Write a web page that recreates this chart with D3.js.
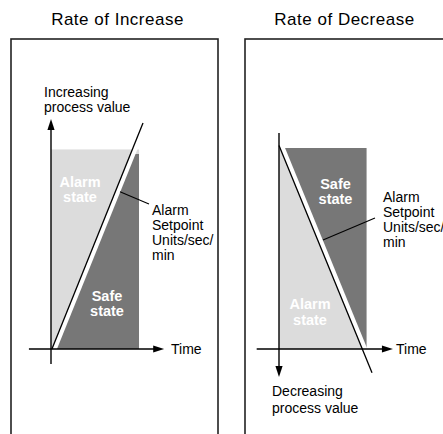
<!DOCTYPE html>
<html><head><meta charset="utf-8">
<script src="https://cdn.jsdelivr.net/npm/d3@7"></script>
<style>
body{margin:0;background:#fff}
svg{display:block}
text{font-family:"Liberation Sans",Arial,Helvetica,sans-serif;fill:#000}
</style>
</head><body>
<script>
// ---------- data ----------
const panelTitles = ["Rate of Increase", "Rate of Decrease"];
const timeLabel = "Time";
const valueLabels = [["Increasing", "process value"], ["Decreasing", "process value"]];
const setpointLabel = ["Alarm", "Setpoint", "Units/sec/", "min"];
const upperZoneLabels = [["Alarm", "state"], ["Safe", "state"]];
const lowerZoneLabels = [["Safe", "state"], ["Alarm", "state"]];
// setpoint line endpoints [time, value]
const incLine = [[0.1, 0], [10, 10]];
const decLine = [[0, 9.0], [10, -1.05]];
// state region extent [time max, value max]
const incRegion = [9.57, 8.83];
const decRegion = [9.41, 8.89];
// dark (safe) region upper bound
const incSafeTop = [8.63];
const decSafeTop = [8.89];
// axis extents [min, max]
const incTimeAxis = [-2.4, 12.3];
const incValueAxis = [-0.66, 10.18];
const decTimeAxis = [-2.4, 12.25];
const decValueAxis = [9.56, -1.24];
// leader line from the setpoint line to its label [time, value]
const incLeader = [[7.5, 6.96], [10.65, 6.42]];
const decLeader = [[4.73, 4.82], [10.32, 5.8]];

// ---------- layout ----------
const W = 443, H = 434;
const svg = d3.select("body").append("svg").attr("width", W).attr("height", H);
const LIGHT = "#dcdcdc", DARK = "#777777";

const panels = [
  { title: panelTitles[0], titleX: 117.5, frame: [11, 39, 207, 430],
    x: d3.scaleLinear([0, 10], [51, 143]), y: d3.scaleLinear([0, 10], [349, 123]),
    line: incLine, region: incRegion, safeTop: incSafeTop[0],
    tAxis: incTimeAxis, vAxis: incValueAxis, leader: incLeader,
    vLabel: valueLabels[0], vLabelPos: [44, 97, 15],
    timePos: [171, 354],
    spPos: [152, 214.5],
    upper: upperZoneLabels[0], upperPos: [80, 187, 14.5],
    lower: lowerZoneLabels[0], lowerPos: [107, 300.5, 15.5],
    upperIsSafe: false },
  { title: panelTitles[1], titleX: 344.5, frame: [245, 39, 260, 430],
    x: d3.scaleLinear([0, 10], [279, 372]), y: d3.scaleLinear([0, 10], [349, 123]),
    line: decLine, region: decRegion, safeTop: decSafeTop[0],
    tAxis: decTimeAxis, vAxis: decValueAxis, leader: decLeader,
    vLabel: valueLabels[1], vLabelPos: [272, 395.5, 17],
    timePos: [396, 354],
    spPos: [383, 201.5],
    upper: upperZoneLabels[1], upperPos: [335.5, 188.5, 15.5],
    lower: lowerZoneLabels[1], lowerPos: [310, 309, 15.5],
    upperIsSafe: true }
];

panels.forEach((p, i) => {
  const g = svg.append("g");
  const x = p.x, y = p.y;

  // title
  g.append("text").attr("x", p.titleX).attr("y", 25)
    .attr("text-anchor", "middle").style("font-size", "17px").style("letter-spacing", "0.5px")
    .text(p.title);

  // frame
  g.append("rect").attr("x", p.frame[0]).attr("y", p.frame[1])
    .attr("width", p.frame[2]).attr("height", p.frame[3])
    .attr("fill", "none").attr("stroke", "#222").attr("stroke-width", 1.6);

  // light region (alarm)
  g.append("rect").attr("x", x(0)).attr("y", y(p.region[1]))
    .attr("width", x(p.region[0]) - x(0)).attr("height", y(0) - y(p.region[1]))
    .attr("fill", LIGHT);

  // dark region (safe): right side of setpoint line, clipped to region
  const clipId = "clip" + i;
  svg.append("clipPath").attr("id", clipId).append("rect")
    .attr("x", x(0)).attr("y", y(p.safeTop))
    .attr("width", x(p.region[0]) - x(0)).attr("height", y(0) - y(p.safeTop));
  const [a, b] = p.line;
  const far = 30;
  const darkPoly = [a, b, [b[0] + far, b[1]], [a[0] + far, a[1]]];
  g.append("path").attr("clip-path", `url(#${clipId})`)
    .attr("d", d3.line().x(d => x(d[0])).y(d => y(d[1]))(darkPoly) + "Z")
    .attr("fill", DARK);

  // setpoint line with white gap on its safe side
  const lineGen = d3.line().x(d => x(d[0])).y(d => y(d[1]));
  g.append("path").attr("d", lineGen(p.line)).attr("transform", "translate(2.6,0)")
    .attr("stroke", "#fff").attr("stroke-width", 4.6).attr("fill", "none");
  g.append("path").attr("d", lineGen(p.line))
    .attr("stroke", "#000").attr("stroke-width", 1.3).attr("fill", "none");

  // leader line
  g.append("path").attr("d", lineGen(p.leader))
    .attr("stroke", "#000").attr("stroke-width", 1.1).attr("fill", "none");

  // axes
  const ax = "#000";
  const tipT = x(p.tAxis[1]), tipV = y(p.vAxis[1]);
  const AL = 11, AW = 3.6;
  // time axis
  g.append("line").attr("x1", x(p.tAxis[0])).attr("x2", tipT - AL + 1)
    .attr("y1", y(0)).attr("y2", y(0)).attr("stroke", ax).attr("stroke-width", 1.4);
  g.append("path").attr("d", `M${tipT},${y(0)}L${tipT - AL},${y(0) - AW}L${tipT - AL},${y(0) + AW}Z`).attr("fill", ax);
  // value axis
  const dir = tipV < y(p.vAxis[0]) ? 1 : -1; // 1: arrow up
  g.append("line").attr("x1", x(0)).attr("x2", x(0))
    .attr("y1", y(p.vAxis[0])).attr("y2", tipV + dir * (AL - 1))
    .attr("stroke", ax).attr("stroke-width", 1.4);
  g.append("path").attr("d", `M${x(0)},${tipV}L${x(0) - AW},${tipV + dir * AL}L${x(0) + AW},${tipV + dir * AL}Z`).attr("fill", ax);

  // text labels
  const fs = "14px";
  p.vLabel.forEach((t, k) => g.append("text").attr("x", p.vLabelPos[0])
    .attr("y", p.vLabelPos[1] + k * p.vLabelPos[2]).style("font-size", fs).text(t));
  g.append("text").attr("x", p.timePos[0]).attr("y", p.timePos[1]).style("font-size", fs).text(timeLabel);
  setpointLabel.forEach((t, k) => g.append("text").attr("x", p.spPos[0])
    .attr("y", p.spPos[1] + k * 15.3).style("font-size", fs).text(t));
  const zone = (lines, pos) => lines.forEach((t, k) => g.append("text")
    .attr("x", pos[0]).attr("y", pos[1] + k * pos[2]).attr("text-anchor", "middle")
    .style("font-size", "14.5px").style("font-weight", "bold").style("fill", "#fff").text(t));
  zone(p.upper, p.upperPos);
  zone(p.lower, p.lowerPos);
});
</script>
</body></html>
